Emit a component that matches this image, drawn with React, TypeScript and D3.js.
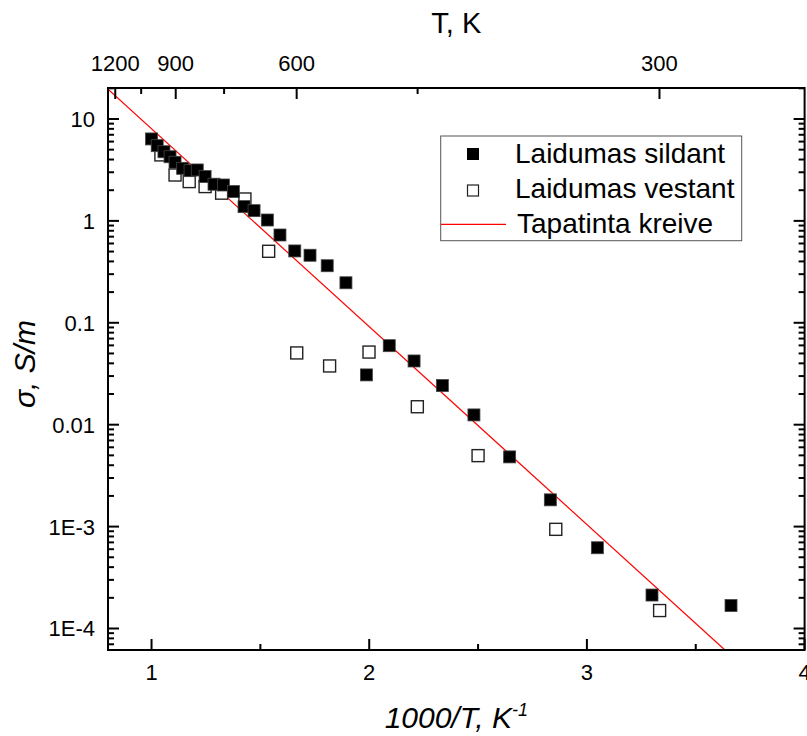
import React from "react";
import * as d3 from "d3";

// ---- data ----
const filledX = [1.0, 1.026, 1.057, 1.085, 1.108, 1.143, 1.177, 1.21, 1.246, 1.287, 1.33, 1.376, 1.425, 1.471, 1.532, 1.59, 1.658, 1.728, 1.807, 1.893, 1.987, 2.092, 2.206, 2.336, 2.481, 2.645, 2.832, 3.048, 3.299, 3.662];
const filledY = [6.37, 5.47, 4.77, 4.26, 3.76, 3.28, 3.11, 3.16, 2.72, 2.29, 2.25, 1.94, 1.38, 1.26, 1.02, 0.727, 0.507, 0.46, 0.363, 0.247, 0.0308, 0.0596, 0.0422, 0.0242, 0.01247, 0.00483, 0.00183, 0.00062, 0.000213, 0.000168];

const openX = [1.043, 1.108, 1.173, 1.246, 1.322, 1.429, 1.538, 1.667, 1.818, 1.999, 2.221, 2.5, 2.857, 3.334];
const openY = [4.44, 2.82, 2.43, 2.17, 1.87, 1.64, 0.503, 0.0506, 0.0377, 0.0516, 0.015, 0.00497, 0.00094, 0.00015];

const fitX = [0.8, 3.634];
const fitY = [19.6, 6.15e-5];

const xTicksMajor = [1, 2, 3, 4];
const xTicksMinor = [1.5, 2.5, 3.5];
const yTicksMajor = [1e-4, 1e-3, 0.01, 0.1, 1, 10];
const yTickLabels = ["1E-4", "1E-3", "0.01", "0.1", "1", "10"];
const tTicksMajor = [1200, 900, 600, 300];
const tTicksMinor = [1050, 750, 450];

const legendLabels = ["Laidumas sildant", "Laidumas vestant", "Tapatinta kreive"];

const W = 807;
const H = 736;
const L = 108, R = 804.6, T = 88, B = 650;
const FONT = "'Liberation Sans', Arial, sans-serif";

export default function App() {
  const x = d3.scaleLinear().domain([0.8, 4.0]).range([L, R]);
  const y = d3.scaleLog().domain([Math.pow(10, -4.211), Math.pow(10, 1.304)]).range([B, T]);
  const [yMin, yMax] = y.domain();

  const yMinor: number[] = [];
  for (let e = -5; e <= 1; e++) {
    for (let k = 2; k <= 9; k++) {
      const v = k * Math.pow(10, e);
      if (v > yMin && v < yMax) yMinor.push(v);
    }
  }

  const line = d3.line<number>().x((_, i) => x(fitX[i])).y((_, i) => y(fitY[i]));
  const MS = 12;

  const ax = { stroke: "#000", strokeWidth: 2 };

  return (
    <svg width={W} height={H} style={{ position: "absolute", left: 0, top: 0, background: "#fff" }} fontFamily={FONT}>
      <defs>
        <clipPath id="plot">
          <rect x={L} y={T} width={R - L} height={B - T} />
        </clipPath>
      </defs>
      <rect x={0} y={0} width={W} height={H} fill="#fff" />

      {/* fit line */}
      <path d={line(fitX) || ""} stroke="#ff0000" strokeWidth={1.2} fill="none" clipPath="url(#plot)" />

      {/* open squares */}
      {openX.map((v, i) => (
        <rect key={"o" + i} x={x(v) - MS / 2} y={y(openY[i]) - MS / 2} width={MS} height={MS} fill="#fff" stroke="#222" strokeWidth={1.4} />
      ))}
      {/* filled squares */}
      {filledX.map((v, i) => (
        <rect key={"f" + i} x={x(v) - MS / 2} y={y(filledY[i]) - MS / 2} width={MS} height={MS} fill="#000" stroke="#444" strokeWidth={0.8} />
      ))}

      {/* frame */}
      <rect x={L} y={T} width={R - L} height={B - T} fill="none" {...ax} />

      {/* bottom ticks */}
      {xTicksMajor.map((v) => (
        <g key={"xb" + v}>
          <line x1={x(v)} x2={x(v)} y1={B} y2={B - 11} {...ax} />
          <text x={x(v)} y={680} textAnchor="middle" fontSize={22}>{v}</text>
        </g>
      ))}
      {xTicksMinor.map((v) => (
        <line key={"xbm" + v} x1={x(v)} x2={x(v)} y1={B} y2={B - 6} {...ax} />
      ))}

      {/* top ticks (temperature) */}
      {tTicksMajor.map((t) => (
        <g key={"tt" + t}>
          <line x1={x(1000 / t)} x2={x(1000 / t)} y1={T} y2={T + 11} {...ax} />
          <text x={x(1000 / t)} y={71} textAnchor="middle" fontSize={22}>{t}</text>
        </g>
      ))}
      {tTicksMinor.map((t) => (
        <line key={"ttm" + t} x1={x(1000 / t)} x2={x(1000 / t)} y1={T} y2={T + 6} {...ax} />
      ))}

      {/* left & right ticks */}
      {yTicksMajor.map((v, i) => (
        <g key={"yl" + v}>
          <line x1={L} x2={L + 11} y1={y(v)} y2={y(v)} {...ax} />
          <line x1={R} x2={R - 11} y1={y(v)} y2={y(v)} {...ax} />
          <text x={95} y={y(v) + 8} textAnchor="end" fontSize={22}>{yTickLabels[i]}</text>
        </g>
      ))}
      {yMinor.map((v) => (
        <g key={"ym" + v}>
          <line x1={L} x2={L + 6} y1={y(v)} y2={y(v)} {...ax} />
          <line x1={R} x2={R - 6} y1={y(v)} y2={y(v)} {...ax} />
        </g>
      ))}

      {/* titles */}
      <text x={(L + R) / 2} y={33} textAnchor="middle" fontSize={29}>T, K</text>
      <text x={(L + R) / 2} y={728} textAnchor="middle" fontSize={30} fontStyle="italic">
        1000/T, K<tspan fontSize={18} dy={-12}>-1</tspan>
      </text>
      <text transform={`translate(35, 364) rotate(-90)`} textAnchor="middle" fontSize={30} fontStyle="italic">σ, S/m</text>

      {/* legend */}
      <rect x={440.7} y={136} width={301} height={104.7} fill="#fff" stroke="#555" strokeWidth={1} />
      <rect x={473 - MS / 2} y={154 - MS / 2} width={MS} height={MS} fill="#000" />
      <rect x={473 - 5.5} y={190.5 - 5.5} width={11} height={11} fill="#fff" stroke="#222" strokeWidth={1.2} />
      <line x1={441} x2={506} y1={224.3} y2={224.3} stroke="#ff0000" strokeWidth={1.2} />
      {legendLabels.map((s, i) => (
        <text key={s} x={i === 2 ? 517 : 515} y={162.7 + i * 35.3} fontSize={28}>{s}</text>
      ))}
    </svg>
  );
}
